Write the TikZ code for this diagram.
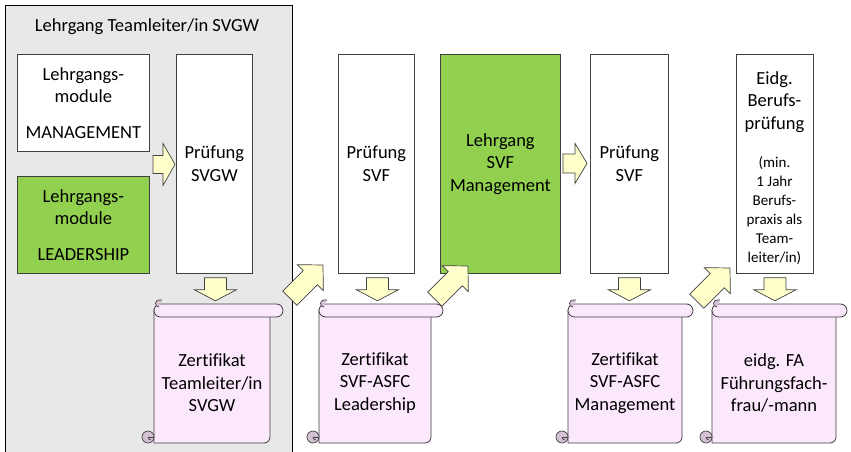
\documentclass[tikz,border=0pt]{standalone}
\usepackage{fontspec}
\setmainfont{Carlito}[Ligatures={NoCommon}]
\usetikzlibrary{calc}
\definecolor{bggray}{HTML}{E8E8E8}
\definecolor{lgreen}{HTML}{92D050}
\definecolor{ayellow}{HTML}{FFFFCC}
\definecolor{spink}{HTML}{FCE8FC}
\definecolor{scurl}{HTML}{D4C2D4}
\definecolor{lcol}{HTML}{404040}
\newcommand\barrow[6]{%
  \filldraw[arrowsty, shift={#1}, rotate=#2]
    (0,0) -- (-#4,#6/2) -- (-#4,#5/2) -- (-#3,#5/2) -- (-#3,-#5/2) -- (-#4,-#5/2) -- (-#4,-#6/2) -- cycle;}
\newcommand\myscroll[5]{% bL, bR, rollR, name, text
  \filldraw[scrollsty] (#1,310) -- (#1,443) {[rounded corners=6pt] -- (#2,443) -- (#2,310)} -- cycle;
  \filldraw[scrollsty, rounded corners=6.5pt] (#1,304) rectangle (#3,317);
  \filldraw[curlsty] (#1+5,310.5) ++(0,-3.5) arc[start angle=90, end angle=270, radius=3.5] -- ++(3,0);
  \filldraw[curlsty] (#1-6,437) circle[radius=6];
  \draw[lcol, line width=0.7pt] (#1-6,437) -- (#1,437);
  \draw[lcol, line width=0.7pt] (#1-6,437) arc[start angle=180, end angle=90, radius=3];
  \node[align=center] (#4) at ({(#1+#2)/2},383) {#5};}
\begin{document}
\begin{tikzpicture}[x=1pt,y=-1pt,
  font=\fontsize{18.5}{22.5}\selectfont,
  box/.style={draw=lcol, line width=0.8pt, fill=white, inner sep=0pt, align=center, anchor=north west},
  gbox/.style={box, fill=lgreen},
  arrowsty/.style={draw=lcol, line width=0.7pt, fill=ayellow, line join=miter},
  scrollsty/.style={draw=lcol, line width=0.8pt, fill=spink},
  curlsty/.style={draw=lcol, line width=0.7pt, fill=scurl},
  smalltext/.style={font=\fontsize{15}{19}\selectfont, align=center}]
\clip (0,0) rectangle (851,452);
\useasboundingbox (0,0) rectangle (851,452);
\fill[white] (0,0) rectangle (851,452);
% outer gray frame
\node[draw=black, line width=0.8pt, fill=bggray, anchor=north west, minimum width=287pt, minimum height=470pt, inner sep=0pt] (outer) at (5,5) {};
\node (title) at (147,27) {Lehrgang Teamleiter/in SVGW};
% boxes
\node[box, minimum width=132pt, minimum height=97pt] (mgmt) at (17,54) {Lehrgangs-\\module\\[13pt]MANAGEMENT};
\node[gbox, minimum width=132pt, minimum height=97pt] (lead) at (17,176) {Lehrgangs-\\module\\[13pt]LEADERSHIP};
\node[box, minimum width=76pt, minimum height=219pt] (psvgw) at (176,54) {Prüfung\\SVGW};
\node[box, minimum width=76pt, minimum height=219pt] (psvf) at (338,54) {Prüfung\\SVF};
\node[gbox, minimum width=120pt, minimum height=219pt] (svfm) at (440,54) {Lehrgang\\SVF\\Management};
\node[box, minimum width=78pt, minimum height=219pt] (psvf2) at (590,54) {Prüfung\\SVF};
\node[box, minimum width=77pt, minimum height=219pt] (eidg) at (736,54) {};
\node[align=center] (eidgt) at (774.5,102) {Eidg.\\Berufs-\\prüfung};
\node[smalltext] (eidgs) at (774.5,211) {(min.\\1 Jahr\\Berufs-\\praxis als\\Team-\\leiter/in)};
% scrolls
\myscroll{154}{270}{283}{z1}{Zertifikat\\Teamleiter/in\\SVGW}
\myscroll{319}{431}{443}{z2}{Zertifikat\\SVF-ASFC\\Leadership}
\myscroll{568}{682}{693}{z3}{Zertifikat\\SVF-ASFC\\Management}
\myscroll{712}{836}{847}{z4}{eidg. FA\\Führungsfach-\\frau/-mann}
% right arrows
\barrow{($(psvgw.west)+(-1,0.5)$)}{0}{22}{12}{18}{42}
\barrow{($(psvf2.west)+(-3,-0.5)$)}{0}{24}{12}{19}{40}
% down arrows
\barrow{($(psvgw.south)+(1,27)$)}{-90}{23}{11}{22}{42}
\barrow{($(psvf.south)+(1,27)$)}{-90}{23}{11}{22}{42}
\barrow{($(psvf2.south)+(0,27)$)}{-90}{23}{11}{22}{42}
\barrow{($(eidg.south)+(0,27)$)}{-90}{23}{11}{22}{42}
% diagonal arrows
\barrow{(323,265)}{45}{47}{18}{20}{37}
\barrow{(468,266)}{45}{47}{18}{20}{37}
\barrow{(730,268)}{45}{47}{18}{20}{37}
\end{tikzpicture}
\end{document}
